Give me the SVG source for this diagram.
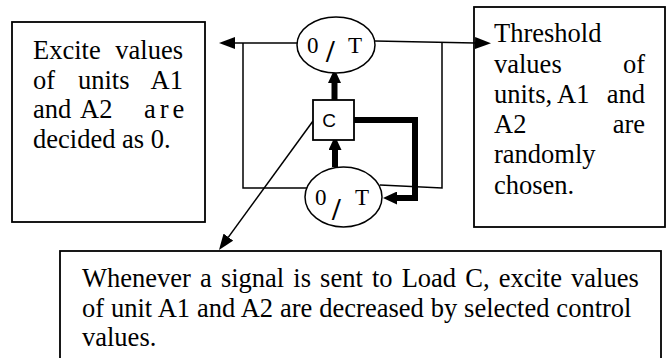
<svg xmlns="http://www.w3.org/2000/svg" width="670" height="358" viewBox="0 0 670 358">
<style>
.box{fill:#fff;stroke:#000;stroke-width:1.8}
.ell{fill:#fff;stroke:#000;stroke-width:1.5}
.t{font-family:"Liberation Serif","Times New Roman",serif;font-size:26.5px;fill:#000}
.e{font-family:"Liberation Serif","Times New Roman",serif;font-size:23px;fill:#000}
.sl{font-size:31px;font-weight:bold}
.c{font-family:"Liberation Sans",Arial,sans-serif;font-size:19px;fill:#000}
.thin{fill:none;stroke:#000;stroke-width:1.5}
.thick{fill:none;stroke:#000;stroke-width:6;stroke-linejoin:miter}
</style>
<defs>
<marker id="ah" viewBox="0 0 16 12" refX="0" refY="6" markerWidth="16" markerHeight="12" markerUnits="userSpaceOnUse" orient="auto">
<path d="M0,0 L16,6 L0,12 z" fill="#000"/>
</marker>
<marker id="ahT" viewBox="0 0 14 13" refX="0" refY="6.5" markerWidth="14" markerHeight="13" markerUnits="userSpaceOnUse" orient="auto">
<path d="M0,0 L14,6.5 L0,13 z" fill="#000"/>
</marker>
</defs>

<g id="excite-box">
<rect class="box" x="12" y="22" width="193" height="200"/>
<text class="t" y="59"><tspan x="33">Excite</tspan><tspan x="183" text-anchor="end">values</tspan></text>
<text class="t" y="88.5"><tspan x="33">of</tspan><tspan x="78">units</tspan><tspan x="183" text-anchor="end">A1</tspan></text>
<text class="t" y="118"><tspan x="33">and</tspan><tspan x="80">A2</tspan><tspan x="144" letter-spacing="4">are</tspan></text>
<text class="t" x="33" y="147.5">decided as 0.</text>
</g>

<g id="threshold-box">
<rect class="box" x="474" y="7" width="191" height="220"/>
<text class="t" x="494" y="42">Threshold</text>
<text class="t" y="73"><tspan x="494">values</tspan><tspan x="645" text-anchor="end">of</tspan></text>
<text class="t" y="103"><tspan x="494">units,</tspan><tspan x="557">A1</tspan><tspan x="645" text-anchor="end">and</tspan></text>
<text class="t" y="133"><tspan x="494">A2</tspan><tspan x="645" text-anchor="end">are</tspan></text>
<text class="t" x="494" y="163">randomly</text>
<text class="t" x="494" y="194">chosen.</text>
</g>

<g id="load-box">
<rect class="box" x="60" y="251" width="601" height="130"/>
<text class="t" x="82" y="287" word-spacing="2.5">Whenever a signal is sent to Load C, excite values</text>
<text class="t" x="82" y="316.5" word-spacing="0.3">of unit A1 and A2 are decreased by selected control</text>
<text class="t" x="82" y="346">values.</text>
</g>

<g id="connectors">
<path class="thin" d="M298,43 H235" marker-end="url(#ah)"/>
<path class="thin" d="M317,188 H243 V43"/>
<path class="thin" d="M375,41 L475,43" marker-end="url(#ah)"/>
<path class="thin" d="M442,42 V188 L380,185"/>
<path class="thin" d="M313,121 L228.4,237.1" marker-end="url(#ah)"/>
<path class="thick" d="M334.5,100 V83" marker-end="url(#ahT)"/>
<path class="thick" d="M335,167 V150" marker-end="url(#ahT)"/>
<path class="thick" d="M354,120 H415 V198 H397" marker-end="url(#ahT)"/>
</g>

<g id="top-node">
<ellipse class="ell" cx="336" cy="45" rx="39" ry="28"/>
<text class="e" y="53"><tspan x="307">0</tspan><tspan class="sl" x="326" y="62">/</tspan><tspan x="348" y="53">T</tspan></text>
</g>

<g id="bottom-node">
<ellipse class="ell" cx="343.5" cy="197" rx="38.5" ry="30"/>
<text class="e" y="205"><tspan x="315">0</tspan><tspan class="sl" x="332" y="220">/</tspan><tspan x="355" y="205">T</tspan></text>
</g>

<g id="load-c">
<rect class="box" x="313" y="100" width="41" height="40"/>
<text class="c" x="329" y="127" text-anchor="middle">C</text>
</g>
</svg>
